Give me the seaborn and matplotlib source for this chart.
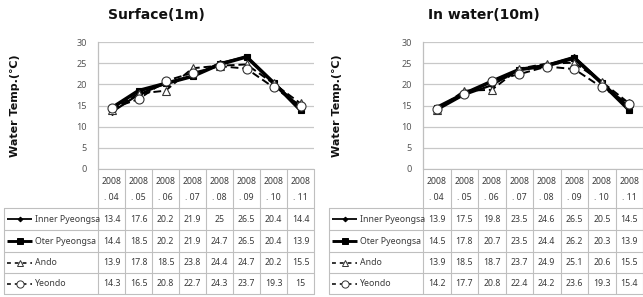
import matplotlib
matplotlib.use('Agg')
import matplotlib.pyplot as plt
import seaborn as sns
import pandas as pd

months = ['04', '05', '06', '07', '08', '09', '10', '11']
year = '2008'
series_names = ['Inner Pyeongsa', 'Oter Pyeongsa', 'Ando', 'Yeondo']

surface_inner = [13.4, 17.6, 20.2, 21.9, 25, 26.5, 20.4, 14.4]
surface_oter = [14.4, 18.5, 20.2, 21.9, 24.7, 26.5, 20.4, 13.9]
surface_ando = [13.9, 17.8, 18.5, 23.8, 24.4, 24.7, 20.2, 15.5]
surface_yeondo = [14.3, 16.5, 20.8, 22.7, 24.3, 23.7, 19.3, 15]

water_inner = [13.9, 17.5, 19.8, 23.5, 24.6, 26.5, 20.5, 14.5]
water_oter = [14.5, 17.8, 20.7, 23.5, 24.4, 26.2, 20.3, 13.9]
water_ando = [13.9, 18.5, 18.7, 23.7, 24.9, 25.1, 20.6, 15.5]
water_yeondo = [14.2, 17.7, 20.8, 22.4, 24.2, 23.6, 19.3, 15.4]

panels = [
    ('Surface(1m)', [surface_inner, surface_oter, surface_ando, surface_yeondo]),
    ('In water(10m)', [water_inner, water_oter, water_ando, water_yeondo]),
]

sns.set_style('white')
plt.rcParams['font.family'] = ['Noto Sans', 'DejaVu Sans']
bold_font = ['DejaVu Sans']

styles = {
    'Inner Pyeongsa': dict(color='black', lw=1.6, ls='-', marker='D', ms=3, mfc='black', mec='black'),
    'Oter Pyeongsa': dict(color='black', lw=2.6, ls='-', marker='s', ms=5, mfc='black', mec='black'),
    'Ando': dict(color='black', lw=1.4, ls=(0, (4, 2)), marker='^', ms=6, mfc='white', mec='#333333', mew=0.8),
    'Yeondo': dict(color='black', lw=1.4, ls=(0, (4, 2)), marker='o', ms=6.5, mfc='white', mec='#333333', mew=0.8),
}

W, H = 643, 297
fig = plt.figure(figsize=(W / 100, H / 100), dpi=100)
overlay = fig.add_axes([0, 0, 1, 1], zorder=5)
overlay.set_xlim(0, W)
overlay.set_ylim(H, 0)
overlay.axis('off')
overlay.patch.set_alpha(0)

grid_c = '#bfbfbf'
text_c = '#3a3a3a'

# panel geometry in pixels: (legend col left, plot left, column width, title x, ylabel x)
geo = [(4, 98, 27.0, 156, 15), (329, 423, 27.5, 484, 337)]
plot_top, plot_bot = 42, 169
row_edges = [169, 208, 230, 252, 273, 294]

for (title, data), (leg_l, px0, cw, tx, lx) in zip(panels, geo):
    px1 = px0 + cw * len(months)
    ax = fig.add_axes([px0 / W, 1 - plot_bot / H, (px1 - px0) / W, (plot_bot - plot_top) / H])
    for name, vals in zip(series_names, data):
        df = pd.DataFrame({'x': range(len(months)), 'y': vals})
        st = styles[name]
        sns.lineplot(data=df, x='x', y='y', ax=ax, color=st['color'], linewidth=st['lw'],
                     linestyle=st['ls'], marker=st['marker'], markersize=st['ms'],
                     markerfacecolor=st['mfc'], markeredgecolor=st['mec'],
                     markeredgewidth=st.get('mew', 0.8), zorder=3)
    ax.set_xlim(-0.5, len(months) - 0.5)
    ax.set_ylim(0, 30)
    ax.set_yticks(range(0, 31, 5))
    ax.set_xticks([])
    ax.set_xlabel('')
    ax.set_ylabel('')
    ax.yaxis.grid(True, color='#c8c8c8', lw=0.9)
    ax.tick_params(axis='y', labelsize=6.5, colors='#555555', length=0, pad=8)
    for sp in ['top', 'right', 'bottom']:
        ax.spines[sp].set_visible(False)
    ax.spines['left'].set_color(grid_c)
    ax.spines['left'].set_linewidth(0.9)

    overlay.text(tx, 15, title, fontsize=10, fontweight='bold', family=bold_font,
                 ha='center', va='center', color='#111111')
    overlay.text(lx, 106, 'Water Temp.(℃)', fontsize=8, fontweight='bold', family=bold_font,
                 rotation=90, ha='center', va='center', color='#111111')

    # table grid
    for i in range(len(months) + 1):
        overlay.plot([px0 + i * cw] * 2, [row_edges[0], row_edges[-1]], color=grid_c, lw=0.8)
    overlay.plot([px0, px1], [row_edges[0]] * 2, color=grid_c, lw=0.8)
    for y in row_edges[1:]:
        overlay.plot([leg_l, px1], [y, y], color=grid_c, lw=0.8)
    overlay.plot([leg_l, leg_l], [row_edges[1], row_edges[-1]], color=grid_c, lw=0.8)

    for i, m in enumerate(months):
        cx = px0 + (i + 0.5) * cw
        overlay.text(cx, 181, year, fontsize=6.3, ha='center', va='center', color=text_c)
        overlay.text(cx, 197, '. ' + m, fontsize=6.3, ha='center', va='center', color=text_c)
        for r, vals in enumerate(data):
            cy = (row_edges[r + 1] + row_edges[r + 2]) / 2
            overlay.text(cx, cy, f'{vals[i]:g}', fontsize=6.3, ha='center', va='center', color=text_c)

    for r, name in enumerate(series_names):
        cy = (row_edges[r + 1] + row_edges[r + 2]) / 2
        st = styles[name]
        ls = '-' if st['ls'] == '-' else (0, (2.5, 2.5))
        overlay.plot([leg_l + 3, leg_l + 28], [cy, cy], color='black', lw=st['lw'] * 0.8, ls=ls,
                     solid_capstyle='butt')
        overlay.plot([leg_l + 15.5], [cy], marker=st['marker'], ms=st['ms'] * 0.8,
                     mfc=st['mfc'], mec=st['mec'], mew=0.7, ls='none')
        overlay.text(leg_l + 31, cy, name, fontsize=6.3, ha='left', va='center', color=text_c)

fig.savefig('out.png', dpi=100)
